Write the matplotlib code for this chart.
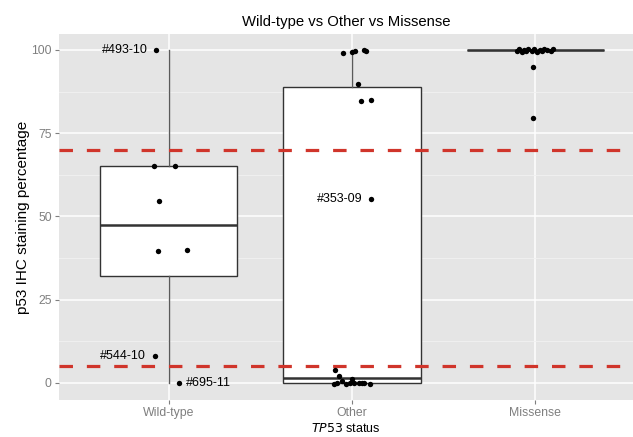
import numpy as np
import matplotlib
matplotlib.use("Agg")
import matplotlib.pyplot as plt

# ---------------- data ----------------
groups = ["Wild-type", "Other", "Missense"]

# Wild-type: staining %, horizontal jitter (category units)
wt_pct = [100.0, 65.1, 65.2, 54.7, 39.6, 39.8, 8.0, 0.0]
wt_jit = [-0.070, -0.081, 0.032, -0.052, -0.059, 0.101, -0.077, 0.057]

# Other
ot_pct = [99.1, 99.3, 99.7, 99.9, 99.7, 89.8, 84.6, 85.0, 55.2,
          3.8, 2.1, -0.5, 0.0, 0.6, -0.5, 0.0, 1.0, 0.0, 0.0, 0.0, -0.2, -0.5]
ot_jit = [-0.048, 0.001, 0.014, 0.064, 0.077, 0.032, 0.050, 0.101, 0.101,
          -0.090, -0.072, -0.099, -0.081, -0.053, -0.030, -0.012, 0.001, 0.010, 0.037, 0.052, 0.064, 0.097]

# Missense
ms_pct = [99.6, 100.3, 99.4, 100.1, 99.7, 100.4, 99.8, 100.2, 99.5, 100.1,
          99.6, 100.3, 99.9, 99.6, 100.2, 94.8, 79.5]
ms_jit = [-0.100, -0.088, -0.075, -0.062, -0.050, -0.041, -0.020, -0.006, 0.012, 0.025,
          0.038, 0.050, 0.064, 0.083, 0.098, -0.011, -0.011]

cutoffs = [70, 5]

# labelled samples: (group index, jitter, pct, text, side)
labels = [(1, -0.070, 100.0, "#493-10", "left"),
          (1, -0.077, 8.0, "#544-10", "left"),
          (1, 0.057, 0.0, "#695-11", "right"),
          (2, 0.101, 55.2, "#353-09", "left")]

# ---------------- plot ----------------
plt.rcParams['font.family'] = ['Liberation Sans', 'DejaVu Sans']
plt.rcParams['lines.scale_dashes'] = False

fig = plt.figure(figsize=(6.33, 4.37), dpi=100)
ax = fig.add_axes([58.7/633, 37/437, 1 - 58.7/633, (400-34)/437])
ax.set_facecolor('#e5e5e5')

pcts = [wt_pct, ot_pct, ms_pct]
jits = [wt_jit, ot_jit, ms_jit]

# box stats use the raw (un-jittered, whole-number) values
bp = ax.boxplot([np.round(p) for p in pcts], positions=[1, 2, 3], widths=0.75,
                patch_artist=True, showcaps=False, showfliers=False, whis=1.5,
                boxprops=dict(facecolor='white', edgecolor='#333333', linewidth=1.0),
                medianprops=dict(color='#333333', linewidth=1.8),
                whiskerprops=dict(color='#5a5a5a', linewidth=1.0),
                zorder=2)

for yl in cutoffs:
    ax.axhline(yl, color='#d0352b', lw=2.3, dashes=(9.7, 10.0), zorder=3)

for i, (p, j) in enumerate(zip(pcts, jits)):
    ax.scatter(np.array(j) + i + 1, p, s=15, color='black', linewidths=0, zorder=4)

for g, j, p, t, side in labels:
    if side == "left":
        ax.annotate(t, (g + j, p), xytext=(-6, 0), textcoords='offset points',
                    ha='right', va='center', fontsize=9, color='black', zorder=5)
    else:
        ax.annotate(t, (g + j, p), xytext=(5, 0), textcoords='offset points',
                    ha='left', va='center', fontsize=9, color='black', zorder=5)

ax.set_xlim(0.4, 3.533)
ax.set_ylim(-5.2, 104.8)
ax.set_xticks([1, 2, 3])
ax.set_xticklabels(groups)
ax.set_yticks([0, 25, 50, 75, 100])
ax.set_yticks([12.5, 37.5, 62.5, 87.5], minor=True)
ax.grid(which='major', color='white', lw=1.1, zorder=0)
ax.grid(which='minor', axis='y', color='#f2f2f2', lw=0.6, zorder=0)
ax.set_axisbelow(True)
for s in ax.spines.values():
    s.set_visible(False)
ax.tick_params(axis='both', which='major', colors='#7f7f7f', labelcolor='#7f7f7f',
               labelsize=8.8, length=3, width=0.8, pad=2)
ax.tick_params(axis='both', which='minor', length=0)

ax.set_ylabel("p53 IHC staining percentage", fontsize=11, labelpad=1)
ax.set_xlabel("$\\it{TP53}$ status", fontsize=9, labelpad=2)
ax.set_title("Wild-type vs Other vs Missense", fontsize=10.7, pad=6)

fig.savefig("out.png", dpi=100)
